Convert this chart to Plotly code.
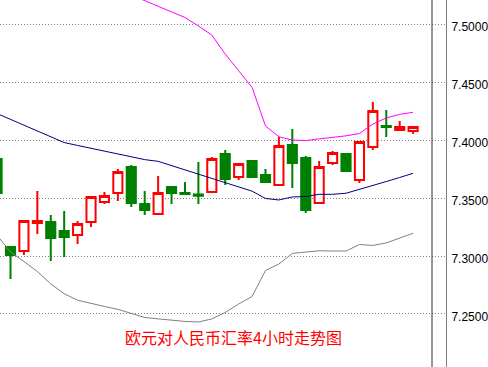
import plotly.graph_objects as go

idx = list(range(32))
opens = [7.3836, 7.3078, 7.3043, 7.3284, 7.3293, 7.3216, 7.3181, 7.3293, 7.3466, 7.3543, 7.3767, 7.3448, 7.3362, 7.3595, 7.3543, 7.3530,
         7.3552, 7.3879, 7.3681, 7.3819, 7.3698, 7.3612, 7.3957, 7.3845, 7.3457, 7.3802, 7.3879, 7.3655, 7.3940, 7.4121, 7.4086, 7.4078]
highs = [7.3850, 7.3078, 7.3302, 7.3560, 7.3354, 7.3388, 7.3302, 7.3509, 7.3552, 7.3750, 7.3785, 7.3560, 7.3690, 7.3603, 7.3638, 7.3810,
         7.3853, 7.3914, 7.3802, 7.3819, 7.3750, 7.4026, 7.4095, 7.3862, 7.3819, 7.3905, 7.3888, 7.3983, 7.4328, 7.4259, 7.4164, 7.4112]
lows = [7.3520, 7.2802, 7.3009, 7.3190, 7.2957, 7.2992, 7.3103, 7.3250, 7.3448, 7.3474, 7.3422, 7.3354, 7.3362, 7.3448, 7.3530, 7.3448,
        7.3543, 7.3612, 7.3655, 7.3681, 7.3629, 7.3612, 7.3586, 7.3371, 7.3457, 7.3785, 7.3733, 7.3629, 7.3914, 7.4026, 7.4078, 7.4052]
closes = [7.3543, 7.3009, 7.3302, 7.3302, 7.3155, 7.3164, 7.3276, 7.3509, 7.3517, 7.3724, 7.3457, 7.3397, 7.3543, 7.3543, 7.3535, 7.3520,
          7.3836, 7.3664, 7.3793, 7.3681, 7.3638, 7.3948, 7.3802, 7.3397, 7.3767, 7.3888, 7.3733, 7.3983, 7.4250, 7.4112, 7.4112, 7.4112]

upper = [7.5362, 7.5362, 7.5353, 7.5345, 7.5345, 7.5336, 7.5336, 7.5328, 7.5310, 7.5284, 7.5250, 7.5202, 7.5155, 7.5108, 7.5056, 7.4983,
         7.4905, 7.4741, 7.4595, 7.4453, 7.4121, 7.4028, 7.4000, 7.3995, 7.4010, 7.4022, 7.4036, 7.4056, 7.4138, 7.4190, 7.4221, 7.4239]
middle = [7.4228, 7.4178, 7.4128, 7.4078, 7.4026, 7.3978, 7.3953, 7.3928, 7.3903, 7.3879, 7.3855, 7.3831, 7.3816, 7.3780, 7.3741, 7.3704,
          7.3668, 7.3634, 7.3601, 7.3559, 7.3496, 7.3483, 7.3509, 7.3513, 7.3532, 7.3532, 7.3541, 7.3573, 7.3608, 7.3642, 7.3677, 7.3713]
lower = [7.3178, 7.3034, 7.2953, 7.2866, 7.2759, 7.2675, 7.2619, 7.2595, 7.2565, 7.2540, 7.2505, 7.2470, 7.2458, 7.2446, 7.2436, 7.2431,
         7.2457, 7.2513, 7.2586, 7.2651, 7.2875, 7.2931, 7.3022, 7.3034, 7.3045, 7.3043, 7.3043, 7.3099, 7.3091, 7.3113, 7.3152, 7.3196]

tick_vals = [7.25, 7.30, 7.35, 7.40, 7.45, 7.50]
tick_text = ["7.2500", "7.3000", "7.3500", "7.4000", "7.4500", "7.5000"]
title_text = "欧元对人民币汇率4小时走势图"

fig = go.Figure()
fig.add_trace(go.Scatter(x=idx, y=upper, mode="lines", line=dict(color="#FF00FF", width=1), hoverinfo="skip"))
fig.add_trace(go.Scatter(x=idx, y=middle, mode="lines", line=dict(color="#000080", width=1), hoverinfo="skip"))
fig.add_trace(go.Scatter(x=idx, y=lower, mode="lines", line=dict(color="#808080", width=1), hoverinfo="skip"))
fig.add_trace(go.Candlestick(
    x=idx, open=opens, high=highs, low=lows, close=closes,
    increasing=dict(line=dict(color="#FF0000", width=2), fillcolor="#FFFFFF"),
    decreasing=dict(line=dict(color="#008000", width=2), fillcolor="#008000"),
    whiskerwidth=0, hoverinfo="skip",
))

fig.add_shape(type="line", xref="paper", yref="paper", x0=432/446, x1=432/446, y0=0, y1=1,
              line=dict(color="#333333", width=1))

fig.add_annotation(text=title_text, xref="paper", yref="paper", x=234/446, y=1-337/367,
                   xanchor="center", yanchor="middle", showarrow=False,
                   font=dict(family="Noto Sans CJK SC", size=16, color="#FF0000"))

fig.update_layout(
    width=488, height=367,
    margin=dict(l=0, r=42, t=0, b=0),
    paper_bgcolor="white", plot_bgcolor="white",
    showlegend=False,
    boxmode="overlay", boxgap=0.32, boxgroupgap=0,
    xaxis=dict(range=[0.218, 33.45], showgrid=False, zeroline=False, showticklabels=False,
               showline=False, rangeslider=dict(visible=False), fixedrange=True),
    yaxis=dict(range=[7.2043, 7.5207], side="right", tickvals=tick_vals, ticktext=tick_text,
               showgrid=True, gridcolor="#808080", gridwidth=1, griddash="1px,2px",
               zeroline=False, showline=True, linecolor="#808080", linewidth=1,
               ticks="", ticklabelstandoff=2, ticklabelshift=3,
               tickfont=dict(family="Liberation Sans", size=12, color="#000000"), fixedrange=True),
)

fig.write_html("out.html", config={"displayModeBar": False})
